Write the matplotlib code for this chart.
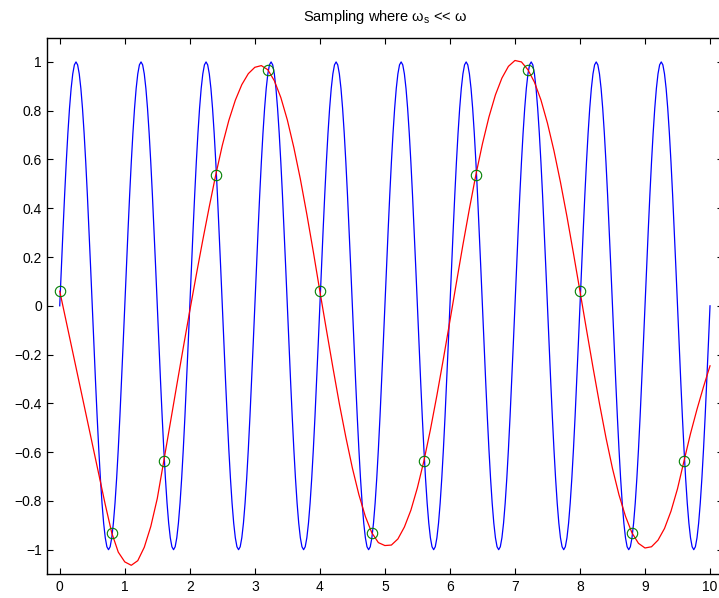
import numpy as np
import matplotlib.pyplot as plt

plt.rcParams['font.family'] = ['Liberation Sans', 'DejaVu Sans']

# green circles: the samples
sample_t = [0.0, 0.8, 1.6, 2.4, 3.2, 4.0, 4.8, 5.6, 6.4, 7.2, 8.0, 8.8, 9.6]
sample_y = [0.060, -0.931, -0.636, 0.538, 0.968, 0.060, -0.931, -0.636,
            0.538, 0.968, 0.060, -0.931, -0.636]

# blue curve: one period (step 0.025), the same shape repeats 10 times on [0, 10]
blue_cycle = [0.000, 0.156, 0.309, 0.454, 0.588, 0.707, 0.809, 0.891, 0.951, 0.988,
              1.000, 0.988, 0.951, 0.891, 0.809, 0.707, 0.588, 0.454, 0.309, 0.156,
              0.000, -0.156, -0.309, -0.454, -0.588, -0.707, -0.809, -0.891, -0.951, -0.988,
              -1.000, -0.988, -0.951, -0.891, -0.809, -0.707, -0.588, -0.454, -0.309, -0.156]
n_periods = 10

# red curve read every 0.1 from t = 0 to 10
red_y = [0.060, -0.065, -0.190, -0.315, -0.440, -0.565, -0.690, -0.815, -0.931, -1.010,
         -1.050, -1.064, -1.045, -0.990, -0.905, -0.790, -0.636, -0.481, -0.325, -0.171,
         -0.020, 0.127, 0.270, 0.407, 0.538, 0.658, 0.760, 0.843, 0.907, 0.952,
         0.978, 0.985, 0.968, 0.923, 0.854, 0.762, 0.649, 0.520, 0.375, 0.221,
         0.060, -0.097, -0.252, -0.402, -0.539, -0.665, -0.774, -0.864, -0.931, -0.971,
         -0.983, -0.981, -0.956, -0.907, -0.838, -0.746, -0.636, -0.508, -0.367, -0.217,
         -0.062, 0.095, 0.250, 0.398, 0.538, 0.664, 0.774, 0.865, 0.934, 0.982,
         1.006, 1.000, 0.968, 0.917, 0.844, 0.749, 0.636, 0.507, 0.366, 0.215,
         0.060, -0.097, -0.252, -0.401, -0.541, -0.667, -0.775, -0.863, -0.931, -0.974,
         -0.993, -0.988, -0.961, -0.913, -0.842, -0.750, -0.636, -0.524, -0.424, -0.332,
         -0.246]

x_ticks = [0, 1, 2, 3, 4, 5, 6, 7, 8, 9, 10]
y_ticks = [-1, -0.8, -0.6, -0.4, -0.2, 0, 0.2, 0.4, 0.6, 0.8, 1]
y_labels = ['\u22121', '\u22120.8', '\u22120.6', '\u22120.4', '\u22120.2',
            '0', '0.2', '0.4', '0.6', '0.8', '1']


def main():
    blue_y = list(np.tile(blue_cycle, n_periods)) + [blue_cycle[0]]
    blue_t = np.linspace(0, n_periods, len(blue_y))
    red_t = np.linspace(0, 10, len(red_y))

    fig = plt.figure(figsize=(7.19, 5.98), dpi=100)
    ax = fig.add_axes([0.065, 0.040, 0.9406, 0.8972])

    ax.plot(blue_t, blue_y, color='#0000ff', lw=0.9)
    ax.plot(red_t, red_y, color='#ff0000', lw=0.9)
    ax.plot(sample_t, sample_y, 'o', mfc='none', mec=(0, 0.5, 0), ms=7.5, mew=0.8)

    ax.set_xlim(-0.2, 10.2)
    ax.set_ylim(-1.1, 1.1)
    ax.set_xticks(x_ticks)
    ax.set_yticks(y_ticks)
    ax.set_xticklabels([str(v) for v in x_ticks])
    ax.set_yticklabels(y_labels)
    ax.tick_params(direction='in', top=True, right=True, length=4.5, width=0.8,
                   labelsize=10)
    ax.tick_params(axis='x', pad=4.5)
    ax.tick_params(axis='y', pad=3.5)
    for s in ax.spines.values():
        s.set_linewidth(1.0)

    ax.set_title(r'Sampling where $\mathregular{\omega_s}$ << $\mathregular{\omega}$',
                 fontsize=10.5, pad=12)

    fig.savefig('out.png', dpi=100)


if __name__ == '__main__':
    main()
